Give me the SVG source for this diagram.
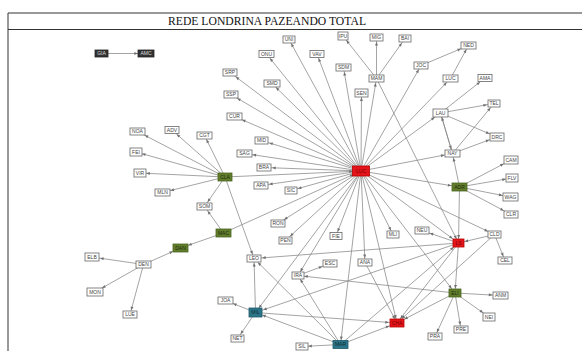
<svg xmlns="http://www.w3.org/2000/svg" width="582" height="351" viewBox="0 0 582 351">
<style>
.n rect{fill:#fff;stroke:#666;stroke-width:.8}
.n text{font-family:"Liberation Sans",Arial,sans-serif;font-size:5px;fill:#444;text-anchor:middle}
.red rect{fill:#e3141a;stroke:#b00}
.red text{fill:#7a0000}
.grn rect{fill:#617d2c;stroke:#4a6420}
.grn text{fill:#1e2a0c}
.teal rect{fill:#2c7487;stroke:#1f5a6a}
.teal text{fill:#0e2e36}
.dk rect{fill:#333;stroke:#222}
.dk text{fill:#ddd}
#edges line{stroke:#858585;stroke-width:.75;fill:none}
.mk path{fill:#707070}
.frame{stroke:#333;stroke-width:1;fill:none}
.title{font-family:"Liberation Serif","Times New Roman",serif;font-size:12.5px;fill:#111;text-anchor:middle}
</style>
<defs>
<marker id="a4" class="mk" markerUnits="userSpaceOnUse" markerWidth="4" markerHeight="3" refX="8" refY="1.5" orient="auto" overflow="visible"><path d="M0,0 L3.5,1.5 L0,3 z"/></marker>
<marker id="a5" class="mk" markerUnits="userSpaceOnUse" markerWidth="4" markerHeight="3" refX="9" refY="1.5" orient="auto" overflow="visible"><path d="M0,0 L3.5,1.5 L0,3 z"/></marker>
<marker id="a6" class="mk" markerUnits="userSpaceOnUse" markerWidth="4" markerHeight="3" refX="9.8" refY="1.5" orient="auto" overflow="visible"><path d="M0,0 L3.5,1.5 L0,3 z"/></marker>
<marker id="a7" class="mk" markerUnits="userSpaceOnUse" markerWidth="4" markerHeight="3" refX="10.7" refY="1.5" orient="auto" overflow="visible"><path d="M0,0 L3.5,1.5 L0,3 z"/></marker>
<marker id="a8" class="mk" markerUnits="userSpaceOnUse" markerWidth="4" markerHeight="3" refX="11.7" refY="1.5" orient="auto" overflow="visible"><path d="M0,0 L3.5,1.5 L0,3 z"/></marker>
</defs>
<rect width="582" height="351" fill="#fff"/>
<path class="frame" d="M8,351 V13 H582 M8,29.5 H582"/>
<text class="title" x="267" y="25" textLength="198" lengthAdjust="spacingAndGlyphs">REDE LONDRINA PAZEANDO TOTAL</text>
<g id="edges">
<line x1="101.5" y1="53.5" x2="146" y2="53.5" marker-end="url(#a8)"/>
<line x1="361" y1="171" x2="230" y2="72.5" marker-end="url(#a7)"/>
<line x1="361" y1="171" x2="231" y2="94.5" marker-end="url(#a7)"/>
<line x1="361" y1="171" x2="234.5" y2="116.5" marker-end="url(#a8)"/>
<line x1="361" y1="171" x2="261.5" y2="140.5" marker-end="url(#a8)"/>
<line x1="361" y1="171" x2="244.5" y2="153.5" marker-end="url(#a8)"/>
<line x1="361" y1="171" x2="264" y2="167.5" marker-end="url(#a8)"/>
<line x1="361" y1="171" x2="261" y2="185.5" marker-end="url(#a8)"/>
<line x1="361" y1="171" x2="291" y2="190.5" marker-end="url(#a7)"/>
<line x1="361" y1="171" x2="266.5" y2="54" marker-end="url(#a5)"/>
<line x1="361" y1="171" x2="289" y2="39.5" marker-end="url(#a4)"/>
<line x1="361" y1="171" x2="317" y2="54" marker-end="url(#a4)"/>
<line x1="361" y1="171" x2="272" y2="83.5" marker-end="url(#a5)"/>
<line x1="361" y1="171" x2="343.5" y2="67.5" marker-end="url(#a4)"/>
<line x1="361" y1="171" x2="361.5" y2="93" marker-end="url(#a4)"/>
<line x1="361" y1="171" x2="278" y2="223.5" marker-end="url(#a7)"/>
<line x1="361" y1="171" x2="285.5" y2="240.5" marker-end="url(#a6)"/>
<line x1="361" y1="171" x2="336" y2="236" marker-end="url(#a4)"/>
<line x1="361" y1="171" x2="393" y2="234.5" marker-end="url(#a4)"/>
<line x1="225" y1="177" x2="361" y2="171" marker-end="url(#a8)"/>
<line x1="361" y1="171" x2="298" y2="275.5" marker-end="url(#a4)"/>
<line x1="361" y1="171" x2="365" y2="262.5" marker-end="url(#a4)"/>
<line x1="361" y1="171" x2="255.5" y2="312.5" marker-end="url(#a5)"/>
<line x1="361" y1="171" x2="340.5" y2="344.5" marker-end="url(#a4)"/>
<line x1="361" y1="171" x2="397" y2="323" marker-end="url(#a4)"/>
<line x1="361" y1="171" x2="458.5" y2="243" marker-end="url(#a7)"/>
<line x1="361" y1="171" x2="455" y2="293" marker-end="url(#a5)"/>
<line x1="361" y1="171" x2="494.5" y2="234.5" marker-end="url(#a7)"/>
<line x1="361" y1="171" x2="459.5" y2="187" marker-end="url(#a8)"/>
<line x1="361" y1="171" x2="452.5" y2="153.5" marker-end="url(#a8)"/>
<line x1="361" y1="171" x2="440.5" y2="113" marker-end="url(#a7)"/>
<line x1="361" y1="171" x2="450.5" y2="78.5" marker-end="url(#a5)"/>
<line x1="361" y1="171" x2="421" y2="65.5" marker-end="url(#a4)"/>
<line x1="361" y1="171" x2="376.5" y2="78.5" marker-end="url(#a4)"/>
<line x1="223.5" y1="233" x2="361" y2="171" marker-end="url(#a8)"/>
<line x1="376.5" y1="78.5" x2="343" y2="36" marker-end="url(#a5)"/>
<line x1="376.5" y1="78.5" x2="376.5" y2="37.5" marker-end="url(#a4)"/>
<line x1="376.5" y1="78.5" x2="405" y2="38.5" marker-end="url(#a5)"/>
<line x1="376.5" y1="78.5" x2="458.5" y2="243" marker-end="url(#a4)"/>
<line x1="421" y1="65.5" x2="468.5" y2="45.5" marker-end="url(#a8)"/>
<line x1="450.5" y1="78.5" x2="468.5" y2="45.5" marker-end="url(#a4)"/>
<line x1="440.5" y1="113" x2="485" y2="78" marker-end="url(#a6)"/>
<line x1="440.5" y1="113" x2="494" y2="103.5" marker-end="url(#a7)"/>
<line x1="440.5" y1="113" x2="497" y2="137" marker-end="url(#a8)"/>
<line x1="440.5" y1="113" x2="452.5" y2="153.5" marker-end="url(#a4)"/>
<line x1="452.5" y1="153.5" x2="440.5" y2="113" marker-end="url(#a4)"/>
<line x1="452.5" y1="153.5" x2="494" y2="103.5" marker-end="url(#a5)"/>
<line x1="452.5" y1="153.5" x2="497" y2="137" marker-end="url(#a8)"/>
<line x1="459.5" y1="187" x2="452.5" y2="153.5" marker-end="url(#a4)"/>
<line x1="459.5" y1="187" x2="511" y2="160" marker-end="url(#a8)"/>
<line x1="459.5" y1="187" x2="512" y2="178" marker-end="url(#a6)"/>
<line x1="459.5" y1="187" x2="510.5" y2="197" marker-end="url(#a8)"/>
<line x1="459.5" y1="187" x2="511" y2="214.5" marker-end="url(#a8)"/>
<line x1="459.5" y1="187" x2="458.5" y2="243" marker-end="url(#a4)"/>
<line x1="494.5" y1="234.5" x2="458.5" y2="243" marker-end="url(#a6)"/>
<line x1="494.5" y1="234.5" x2="505" y2="260.5" marker-end="url(#a4)"/>
<line x1="494.5" y1="234.5" x2="397" y2="323" marker-end="url(#a6)"/>
<line x1="458.5" y1="243" x2="422" y2="230.5" marker-end="url(#a8)"/>
<line x1="458.5" y1="243" x2="455" y2="293" marker-end="url(#a4)"/>
<line x1="458.5" y1="243" x2="397" y2="323" marker-end="url(#a5)"/>
<line x1="458.5" y1="243" x2="254" y2="258.5" marker-end="url(#a8)"/>
<line x1="458.5" y1="243" x2="255.5" y2="312.5" marker-end="url(#a8)"/>
<line x1="340.5" y1="344.5" x2="458.5" y2="243" marker-end="url(#a6)"/>
<line x1="455" y1="293" x2="500.5" y2="295.5" marker-end="url(#a8)"/>
<line x1="455" y1="293" x2="489" y2="317" marker-end="url(#a7)"/>
<line x1="455" y1="293" x2="461" y2="329.5" marker-end="url(#a4)"/>
<line x1="455" y1="293" x2="435" y2="336.5" marker-end="url(#a4)"/>
<line x1="455" y1="293" x2="298" y2="275.5" marker-end="url(#a6)"/>
<line x1="455" y1="293" x2="397" y2="323" marker-end="url(#a8)"/>
<line x1="255.5" y1="312.5" x2="254" y2="258.5" marker-end="url(#a4)"/>
<line x1="255.5" y1="312.5" x2="225.5" y2="300.5" marker-end="url(#a8)"/>
<line x1="255.5" y1="312.5" x2="237.5" y2="338.5" marker-end="url(#a5)"/>
<line x1="255.5" y1="312.5" x2="397" y2="323" marker-end="url(#a8)"/>
<line x1="340.5" y1="344.5" x2="255.5" y2="312.5" marker-end="url(#a7)"/>
<line x1="340.5" y1="344.5" x2="302" y2="346.5" marker-end="url(#a6)"/>
<line x1="340.5" y1="344.5" x2="397" y2="323" marker-end="url(#a8)"/>
<line x1="340.5" y1="344.5" x2="254" y2="258.5" marker-end="url(#a5)"/>
<line x1="340.5" y1="344.5" x2="298" y2="275.5" marker-end="url(#a4)"/>
<line x1="298" y1="275.5" x2="330" y2="263.5" marker-end="url(#a8)"/>
<line x1="365" y1="262.5" x2="397" y2="323" marker-end="url(#a4)"/>
<line x1="225" y1="177" x2="254" y2="258.5" marker-end="url(#a4)"/>
<line x1="225" y1="177" x2="137.5" y2="131.5" marker-end="url(#a8)"/>
<line x1="225" y1="177" x2="172" y2="130" marker-end="url(#a6)"/>
<line x1="225" y1="177" x2="204.5" y2="135.5" marker-end="url(#a4)"/>
<line x1="225" y1="177" x2="136" y2="152" marker-end="url(#a6)"/>
<line x1="225" y1="177" x2="140" y2="173" marker-end="url(#a6)"/>
<line x1="225" y1="177" x2="162.5" y2="192.5" marker-end="url(#a8)"/>
<line x1="225" y1="177" x2="204.5" y2="206.5" marker-end="url(#a5)"/>
<line x1="223.5" y1="233" x2="204.5" y2="206.5" marker-end="url(#a5)"/>
<line x1="223.5" y1="233" x2="180.5" y2="248" marker-end="url(#a8)"/>
<line x1="143.5" y1="264.5" x2="180.5" y2="248" marker-end="url(#a8)"/>
<line x1="143.5" y1="264.5" x2="92" y2="257" marker-end="url(#a8)"/>
<line x1="143.5" y1="264.5" x2="95" y2="292" marker-end="url(#a8)"/>
<line x1="143.5" y1="264.5" x2="130" y2="314.5" marker-end="url(#a4)"/>
</g>
<g id="n-GIA" class="n dk"><rect x="95" y="50" width="13" height="7"/><text x="101.5" y="55.3">GIA</text></g>
<g id="n-AMC" class="n dk"><rect x="138" y="50" width="16" height="7"/><text x="146" y="55.3">AMC</text></g>
<g id="n-SRP" class="n"><rect x="223" y="69" width="14" height="7"/><text x="230" y="74.3">SRP</text></g>
<g id="n-SSP" class="n"><rect x="224" y="91" width="14" height="7"/><text x="231" y="96.3">SSP</text></g>
<g id="n-CUR" class="n"><rect x="227" y="113" width="15" height="7"/><text x="234.5" y="118.3">CUR</text></g>
<g id="n-NOA" class="n"><rect x="130" y="128" width="15" height="7"/><text x="137.5" y="133.3">NOA</text></g>
<g id="n-ADV" class="n"><rect x="165" y="126.5" width="14" height="7"/><text x="172" y="131.8">ADV</text></g>
<g id="n-CGT" class="n"><rect x="197" y="132" width="15" height="7"/><text x="204.5" y="137.3">CGT</text></g>
<g id="n-UNI" class="n"><rect x="283" y="36" width="12" height="7"/><text x="289" y="41.3">UNI</text></g>
<g id="n-ONU" class="n"><rect x="259" y="50.5" width="15" height="7"/><text x="266.5" y="55.8">ONU</text></g>
<g id="n-VAV" class="n"><rect x="310" y="50.5" width="14" height="7"/><text x="317" y="55.8">VAV</text></g>
<g id="n-IPU" class="n"><rect x="338" y="32" width="10" height="8"/><text x="343" y="37.8">IPU</text></g>
<g id="n-MIG" class="n"><rect x="370" y="34" width="13" height="7"/><text x="376.5" y="39.3">MIG</text></g>
<g id="n-BAI" class="n"><rect x="399" y="35" width="12" height="7"/><text x="405" y="40.3">BAI</text></g>
<g id="n-SDM" class="n"><rect x="336" y="64" width="15" height="7"/><text x="343.5" y="69.3">SDM</text></g>
<g id="n-MAM" class="n"><rect x="369" y="75" width="15" height="7"/><text x="376.5" y="80.3">MAM</text></g>
<g id="n-SEN" class="n"><rect x="355" y="89" width="13" height="8"/><text x="361.5" y="94.8">SEN</text></g>
<g id="n-SMD" class="n"><rect x="264" y="80" width="16" height="7"/><text x="272" y="85.3">SMD</text></g>
<g id="n-NED" class="n"><rect x="461" y="42" width="15" height="7"/><text x="468.5" y="47.3">NED</text></g>
<g id="n-JOC" class="n"><rect x="414" y="62" width="14" height="7"/><text x="421" y="67.3">JOC</text></g>
<g id="n-LUC2" class="n"><rect x="443" y="75" width="15" height="7"/><text x="450.5" y="80.3">LUC</text></g>
<g id="n-AMA" class="n"><rect x="478" y="74.5" width="14" height="7"/><text x="485" y="79.8">AMA</text></g>
<g id="n-LAU" class="n"><rect x="433" y="109" width="15" height="8"/><text x="440.5" y="114.8">LAU</text></g>
<g id="n-TEL" class="n"><rect x="488" y="100" width="12" height="7"/><text x="494" y="105.3">TEL</text></g>
<g id="n-DRC" class="n"><rect x="490" y="133" width="14" height="8"/><text x="497" y="138.8">DRC</text></g>
<g id="n-NAY" class="n"><rect x="445" y="150" width="15" height="7"/><text x="452.5" y="155.3">NAY</text></g>
<g id="n-CAM" class="n"><rect x="504" y="156" width="14" height="8"/><text x="511" y="161.8">CAM</text></g>
<g id="n-ADR" class="n grn"><rect x="452" y="183" width="15" height="8"/><text x="459.5" y="188.8">ADR</text></g>
<g id="n-FLV" class="n"><rect x="506" y="174" width="12" height="8"/><text x="512" y="179.8">FLV</text></g>
<g id="n-WAG" class="n"><rect x="503" y="193" width="15" height="8"/><text x="510.5" y="198.8">WAG</text></g>
<g id="n-CLR" class="n"><rect x="504" y="211" width="14" height="7"/><text x="511" y="216.3">CLR</text></g>
<g id="n-NEU" class="n"><rect x="415" y="227" width="14" height="7"/><text x="422" y="232.3">NEU</text></g>
<g id="n-CLD" class="n"><rect x="488" y="231" width="13" height="7"/><text x="494.5" y="236.3">CLD</text></g>
<g id="n-LS" class="n red"><rect x="453" y="239" width="11" height="8"/><text x="458.5" y="244.8">LS</text></g>
<g id="n-CEL" class="n"><rect x="498" y="257" width="14" height="7"/><text x="505" y="262.3">CEL</text></g>
<g id="n-ELI" class="n grn"><rect x="449" y="289" width="12" height="8"/><text x="455" y="294.8">ELI</text></g>
<g id="n-ANM" class="n"><rect x="493" y="292" width="15" height="7"/><text x="500.5" y="297.3">ANM</text></g>
<g id="n-NEI" class="n"><rect x="483" y="313" width="12" height="8"/><text x="489" y="318.8">NEI</text></g>
<g id="n-PRE" class="n"><rect x="454" y="326" width="14" height="7"/><text x="461" y="331.3">PRE</text></g>
<g id="n-PRA" class="n"><rect x="428" y="333" width="14" height="7"/><text x="435" y="338.3">PRA</text></g>
<g id="n-CHA" class="n red"><rect x="390" y="319" width="14" height="8"/><text x="397" y="324.8">CHA</text></g>
<g id="n-RON" class="n"><rect x="271" y="220" width="14" height="7"/><text x="278" y="225.3">RON</text></g>
<g id="n-PEN" class="n"><rect x="279" y="237" width="13" height="7"/><text x="285.5" y="242.3">PEN</text></g>
<g id="n-FIE" class="n"><rect x="330" y="232.5" width="12" height="7"/><text x="336" y="237.8">FIE</text></g>
<g id="n-MLI" class="n"><rect x="387" y="231" width="12" height="7"/><text x="393" y="236.3">MLI</text></g>
<g id="n-LEO" class="n"><rect x="247" y="255" width="14" height="7"/><text x="254" y="260.3">LEO</text></g>
<g id="n-ESC" class="n"><rect x="323" y="260" width="14" height="7"/><text x="330" y="265.3">ESC</text></g>
<g id="n-ANA" class="n"><rect x="358" y="259" width="14" height="7"/><text x="365" y="264.3">ANA</text></g>
<g id="n-IRA" class="n"><rect x="292" y="272" width="12" height="7"/><text x="298" y="277.3">IRA</text></g>
<g id="n-MIL" class="n teal"><rect x="249" y="308" width="13" height="9"/><text x="255.5" y="314.3">MIL</text></g>
<g id="n-MAR" class="n teal"><rect x="333" y="340.5" width="15" height="8"/><text x="340.5" y="346.3">MAR</text></g>
<g id="n-SIL" class="n"><rect x="296" y="343" width="12" height="7"/><text x="302" y="348.3">SIL</text></g>
<g id="n-MAC" class="n grn"><rect x="216" y="229" width="15" height="8"/><text x="223.5" y="234.8">MAC</text></g>
<g id="n-DAN" class="n grn"><rect x="173" y="244" width="15" height="8"/><text x="180.5" y="249.8">DAN</text></g>
<g id="n-DEN" class="n"><rect x="136" y="261" width="15" height="7"/><text x="143.5" y="266.3">DEN</text></g>
<g id="n-ELB" class="n"><rect x="85" y="253" width="14" height="8"/><text x="92" y="258.8">ELB</text></g>
<g id="n-MON" class="n"><rect x="87" y="288" width="16" height="8"/><text x="95" y="293.8">MON</text></g>
<g id="n-LUE" class="n"><rect x="123" y="311" width="14" height="7"/><text x="130" y="316.3">LUE</text></g>
<g id="n-JOA" class="n"><rect x="218" y="297" width="15" height="7"/><text x="225.5" y="302.3">JOA</text></g>
<g id="n-NET" class="n"><rect x="231" y="335" width="13" height="7"/><text x="237.5" y="340.3">NET</text></g>
<g id="n-CLA" class="n grn"><rect x="218" y="173" width="14" height="8"/><text x="225" y="178.8">CLA</text></g>
<g id="n-FEI" class="n"><rect x="130" y="148" width="12" height="8"/><text x="136" y="153.8">FEI</text></g>
<g id="n-VIR" class="n"><rect x="134" y="169" width="12" height="8"/><text x="140" y="174.8">VIR</text></g>
<g id="n-MLN" class="n"><rect x="155" y="189" width="15" height="7"/><text x="162.5" y="194.3">MLN</text></g>
<g id="n-SOM" class="n"><rect x="197" y="203" width="15" height="7"/><text x="204.5" y="208.3">SOM</text></g>
<g id="n-SAG" class="n"><rect x="237" y="150" width="15" height="7"/><text x="244.5" y="155.3">SAG</text></g>
<g id="n-MID" class="n"><rect x="255" y="137" width="13" height="7"/><text x="261.5" y="142.3">MID</text></g>
<g id="n-BRA" class="n"><rect x="257" y="164" width="14" height="7"/><text x="264" y="169.3">BRA</text></g>
<g id="n-APA" class="n"><rect x="254" y="182" width="14" height="7"/><text x="261" y="187.3">APA</text></g>
<g id="n-SIC" class="n"><rect x="285" y="187" width="12" height="7"/><text x="291" y="192.3">SIC</text></g>
<g id="n-LUC" class="n red"><rect x="352.5" y="166" width="17" height="10"/><text x="361" y="172.8">LUC</text></g>
</svg>
